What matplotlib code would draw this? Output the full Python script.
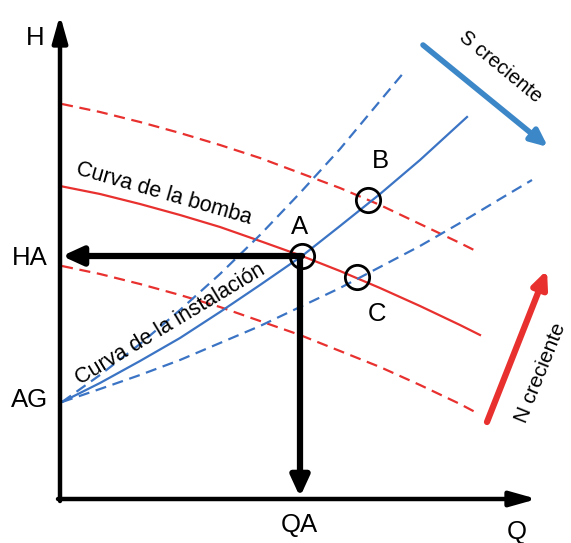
import matplotlib
matplotlib.use("Agg")
import matplotlib.pyplot as plt

# caudal Q y altura H (unidades arbitrarias)
q_pump = [0, 40, 80, 120, 160, 200, 242, 280, 320, 360, 400, 420]
h_pump = [313, 305, 295, 284, 272, 258, 243, 228, 211, 193, 174, 164]

q_pump_hi = [2, 40, 80, 120, 160, 200, 240, 280, 320, 360, 400, 418]
h_pump_hi = [395, 387, 377, 366, 354, 341, 326, 311, 294, 275, 256, 247]

q_pump_lo = [2, 40, 80, 120, 160, 200, 240, 280, 320, 360, 400, 417]
h_pump_lo = [233, 225, 215, 204, 192, 178, 164, 148, 132, 114, 95, 86]

q_sys = [2, 40, 80, 120, 160, 200, 242, 280, 320, 360, 407]
h_sys = [97, 116, 138, 161, 187, 214, 243, 273, 305, 339, 382]

q_sys_steep = [2, 40, 80, 120, 160, 200, 240, 280, 320, 345]
h_sys_steep = [97, 124, 155, 189, 225, 264, 306, 350, 398, 428]

q_sys_flat = [2, 40, 80, 120, 160, 200, 240, 280, 320, 360, 400, 440, 472]
h_sys_flat = [97, 110, 124, 139, 156, 173, 192, 211, 232, 253, 276, 300, 319]

# puntos de funcionamiento
op_names = ["A", "B", "C"]
op_q = [242, 308, 297]
op_h = [243, 299, 222]

RED = "#e8312f"
BLUE = "#3b74c4"
FONT = "Liberation Sans"

fig = plt.figure(figsize=(5.71, 5.43), dpi=100)
ax = fig.add_axes([0, 0, 1, 1])
ax.set_xlim(-60, 511)
ax.set_ylim(-44, 499)
ax.axis("off")

dash = (0, (5, 3))
# curvas de la bomba
ax.plot(q_pump, h_pump, color=RED, lw=1.6)
ax.plot(q_pump_hi, h_pump_hi, color=RED, lw=1.6, linestyle=dash)
ax.plot(q_pump_lo, h_pump_lo, color=RED, lw=1.6, linestyle=dash)
# curvas de la instalacion
ax.plot(q_sys, h_sys, color=BLUE, lw=1.6)
ax.plot(q_sys_steep, h_sys_steep, color=BLUE, lw=1.6, linestyle=dash)
ax.plot(q_sys_flat, h_sys_flat, color=BLUE, lw=1.6, linestyle=dash)

# ejes con flecha
axis_arrow = dict(arrowstyle="-|>,head_length=1.6,head_width=0.45", lw=3.2, color="black",
                  shrinkA=0, shrinkB=0)
ax.annotate("", xy=(0, 484), xytext=(0, -2), arrowprops=axis_arrow)
ax.annotate("", xy=(477, 0), xytext=(-2, 0), arrowprops=axis_arrow)

# flechas HA y QA desde A
a_q, a_h = op_q[0], op_h[0]
op_arrow = dict(arrowstyle="-|>,head_length=1.2,head_width=0.55", lw=4.5, color="black",
                shrinkA=0, shrinkB=0)
ax.annotate("", xy=(2, a_h), xytext=(a_q, a_h), arrowprops=op_arrow)
ax.annotate("", xy=(a_q - 2, 2), xytext=(a_q - 2, a_h), arrowprops=op_arrow)

# circulos de los puntos de funcionamiento
ax.plot(op_q, op_h, linestyle="none", marker="o", markersize=17.5, markerfacecolor="none",
        markeredgecolor="black", markeredgewidth=2)

lbl = dict(fontsize=18.5, family=FONT, ha="center", va="center")
ax.text(a_q - 2, 272, op_names[0], **lbl)
ax.text(320, 338, op_names[1], **lbl)
ax.text(317, 185, op_names[2], **lbl)
ax.text(-25, 461, "H", **lbl)
ax.text(-30, 241, "HA", **lbl)
ax.text(-30, 99, "AG", **lbl)
ax.text(239, -26, "QA", **lbl)
ax.text(457, -33, "Q", **lbl)

small = dict(family=FONT, ha="center", va="center", rotation_mode="anchor")
ax.text(104, 305, "Curva de la bomba", rotation=-16, fontsize=15.5, **small)
ax.text(110, 175, "Curva de la instalación", rotation=31, fontsize=15.5, **small)

# flechas de tendencia
ax.annotate("", xy=(488, 352), xytext=(363, 454),
            arrowprops=dict(arrowstyle="-|>,head_length=1.0,head_width=0.45", lw=4, color="#3c87c8",
                            shrinkA=0, shrinkB=0))
ax.text(440, 432, "S creciente", rotation=-39.5, fontsize=14.5, **small)
ax.annotate("", xy=(487, 229), xytext=(427, 77),
            arrowprops=dict(arrowstyle="-|>,head_length=1.0,head_width=0.45", lw=4.5, color=RED,
                            shrinkA=0, shrinkB=0))
ax.text(481, 126, "N creciente", rotation=68, fontsize=15, **small)

fig.savefig("out.png", dpi=100)
